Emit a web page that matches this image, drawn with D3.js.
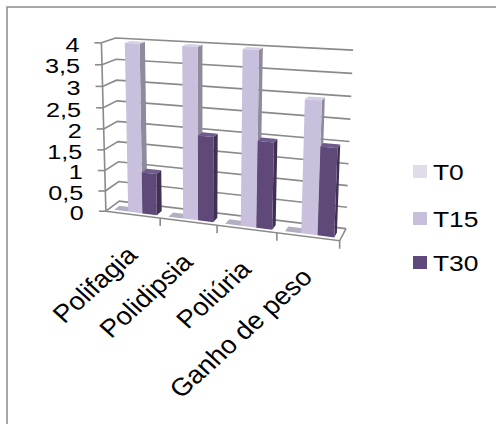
<!DOCTYPE html>
<html>
<head>
<meta charset="utf-8">
<script src="https://cdn.jsdelivr.net/npm/d3@7"></script>
<style>
  html, body { margin: 0; padding: 0; background: #fff; }
  svg { display: block; }
  text { font-family: "Liberation Sans", Arial, sans-serif; fill: #000; }
</style>
</head>
<body>
<svg id="chart" width="496" height="424"></svg>
<script>
// ---- data ----
const categories = ["Polifagia", "Polidipsia", "Poliúria", "Ganho de peso"];
const seriesNames = ["T0", "T15", "T30"];
const valuesT0 = [0, 0, 0, 0];
const valuesT15 = [4, 4, 4, 3];
const valuesT30 = [1, 2, 2, 2];
const valueTicks = [0, 0.5, 1, 1.5, 2, 2.5, 3, 3.5, 4];
const valueTickLabels = ["0", "0,5", "1", "1,5", "2", "2,5", "3", "3,5", "4"];

const seriesValues = [valuesT0, valuesT15, valuesT30];

// ---- styles ----
const faceColors = {
  T0:  { front: "#dedae9", side: "#9c98a8", top: "#b3aec0" },
  T15: { front: "#c8c0dc", side: "#8f8a9c", top: "#d6d0e4" },
  T30: { front: "#5e4979", side: "#3f3054", top: "#6f5b8b" }
};
const legendColors = { T0: "#e0dcea", T15: "#c8bfdc", T30: "#5f497a" };
const gridColor = "#8a8a8a";
const sx = 1.2;      // horizontal text stretch
const sxCat = 1.1;   // stretch for the rotated category labels

// ---- 3D box projection (u: categories, v: value, w: depth) ----
// Anchor points of the plot box in screen space; a camera matrix is fitted to them.
const anchors = [
  [[0, 0, 0], [107, 211]],
  [[1, 0, 0], [340, 240]],
  [[0, 1, 0], [100, 43]],
  [[0, 0, 1], [118, 201]],
  [[1, 0, 1], [346, 229]],
  [[0, 1, 1], [117, 38]],
  [[1, 1, 1], [353, 50]],
  [[0.25, 0, 0], [160, 218]],
  [[0.5, 0, 0], [218, 226]],
  [[0.75, 0, 0], [276, 233]]
];

function fitCamera(pairs) {
  const A = [], b = [];
  pairs.forEach(([[X, Y, Z], [x, y]]) => {
    A.push([X, Y, Z, 1, 0, 0, 0, 0, -x * X, -x * Y, -x * Z]); b.push(x);
    A.push([0, 0, 0, 0, X, Y, Z, 1, -y * X, -y * Y, -y * Z]); b.push(y);
  });
  const n = 11;
  const M = Array.from({ length: n }, () => new Array(n + 1).fill(0));
  for (let r = 0; r < A.length; r++) {
    for (let i = 0; i < n; i++) {
      for (let j = 0; j < n; j++) M[i][j] += A[r][i] * A[r][j];
      M[i][n] += A[r][i] * b[r];
    }
  }
  for (let c = 0; c < n; c++) {
    let piv = c;
    for (let r = c + 1; r < n; r++) if (Math.abs(M[r][c]) > Math.abs(M[piv][c])) piv = r;
    [M[c], M[piv]] = [M[piv], M[c]];
    for (let r = 0; r < n; r++) {
      if (r === c) continue;
      const f = M[r][c] / M[c][c];
      for (let k = c; k <= n; k++) M[r][k] -= f * M[c][k];
    }
  }
  return M.map((row, i) => row[n] / row[i]);
}
const P = fitCamera(anchors);
function project(u, v, w) {
  const d = P[8] * u + P[9] * v + P[10] * w + 1;
  return [(P[0] * u + P[1] * v + P[2] * w + P[3]) / d,
          (P[4] * u + P[5] * v + P[6] * w + P[7]) / d];
}

// ---- scales ----
const xBand = d3.scaleBand().domain(categories).range([0, 1]).paddingInner(0.21).paddingOuter(0.105);
const sBand = d3.scaleBand().domain(seriesNames).range([0, xBand.bandwidth()]);
const yScale = d3.scaleLinear().domain([0, 4]).range([0, 1]);
const barFront = 0.2, barBack = 0.6;

const svg = d3.select("#chart");
const line = d3.line();
const poly = pts => "M" + pts.map(p => p.join(",")).join("L") + "Z";

// outer frame
svg.append("rect").attr("x", 7).attr("y", 7).attr("width", 500).attr("height", 430)
  .attr("fill", "none").attr("stroke", "#8c8c8c").attr("stroke-width", 1.5);

const g = svg.append("g");

// back wall and side wall gridlines, value ticks and labels
valueTicks.forEach((t, i) => {
  const v = yScale(t);
  g.append("path").attr("d", line([project(0, v, 0), project(0, v, 1), project(1, v, 1)]))
    .attr("fill", "none").attr("stroke", gridColor).attr("stroke-width", 1.6);
  const p = project(0, v, 0);
  g.append("path").attr("d", line([[p[0] - 7, p[1]], p]))
    .attr("fill", "none").attr("stroke", gridColor).attr("stroke-width", 1.6);
  g.append("text")
    .attr("transform", `translate(${p[0] - 22},${p[1] + 1.5}) scale(${sx},1)`)
    .attr("text-anchor", "end").attr("dominant-baseline", "central")
    .attr("font-size", 21).text(valueTickLabels[i]);
});

// value axis line
g.append("path").attr("d", line([project(0, 0, 0), project(0, 1, 0)]))
  .attr("fill", "none").attr("stroke", gridColor).attr("stroke-width", 1.6);

// floor outline
g.append("path").attr("d", line([project(0, 0, 0), project(1, 0, 0), project(1, 0, 1)]))
  .attr("fill", "none").attr("stroke", gridColor).attr("stroke-width", 1.6);

// category ticks
d3.range(1, categories.length + 1).forEach(i => {
  const p = project(i / categories.length, 0, 0);
  g.append("path").attr("d", line([p, [p[0], p[1] + 8]]))
    .attr("fill", "none").attr("stroke", gridColor).attr("stroke-width", 1.6);
});

// bars, drawn left to right so nearer faces overlap
categories.forEach((c, ci) => {
  seriesNames.forEach((s, si) => {
    const u0 = xBand(c) + sBand(s), u1 = u0 + sBand.bandwidth();
    const v1 = yScale(seriesValues[si][ci]);
    const col = faceColors[s];
    const w0 = barFront, w1 = barBack;
    if (v1 > 0) {
      g.append("path").attr("d", poly([project(u1, 0, w0), project(u1, 0, w1), project(u1, v1, w1), project(u1, v1, w0)]))
        .attr("fill", col.side);
    }
    g.append("path").attr("d", poly([project(u0, v1, w0), project(u1, v1, w0), project(u1, v1, w1), project(u0, v1, w1)]))
      .attr("fill", col.top);
    if (v1 > 0) {
      g.append("path").attr("d", poly([project(u0, 0, w0), project(u1, 0, w0), project(u1, v1, w0), project(u0, v1, w0)]))
        .attr("fill", col.front);
    }
  });
});

// category labels
categories.forEach(c => {
  const p = project(xBand(c) + xBand.bandwidth() / 2, 0, 0);
  g.append("text")
    .attr("transform", `translate(${p[0] + 6},${p[1] + 42}) scale(${sxCat},1) rotate(-45)`)
    .attr("text-anchor", "end").attr("font-size", 25).text(c);
});

// legend
const legend = svg.append("g");
const legendY = [171.5, 218.5, 262.5];
seriesNames.forEach((s, i) => {
  legend.append("rect").attr("x", 413).attr("y", legendY[i] - 6.5).attr("width", 14).attr("height", 13)
    .attr("fill", legendColors[s]);
  legend.append("text")
    .attr("transform", `translate(433,${legendY[i] + 1}) scale(${sx},1)`)
    .attr("dominant-baseline", "central").attr("font-size", 22).text(s);
});
</script>
</body>
</html>
